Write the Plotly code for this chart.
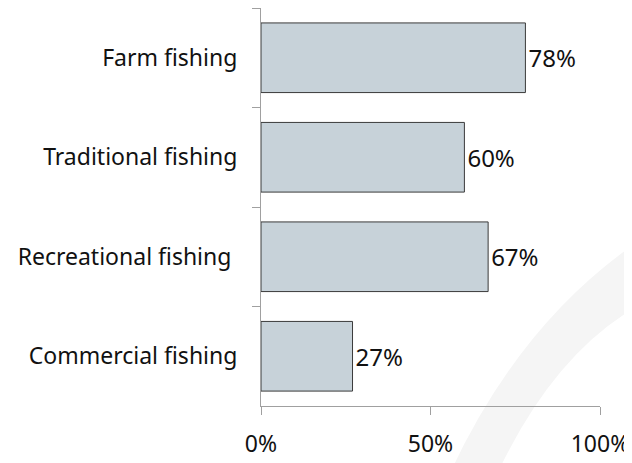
import plotly.graph_objects as go

categories = ["Farm fishing", "Traditional fishing", "Recreational fishing ", "Commercial fishing"]
values = [78, 60, 67, 27]
labels = ["78%", "60%", "67%", "27%"]
x_ticks = [0, 50, 100]
x_tick_labels = ["0%", "50%", "100%"]

FONT = "Noto Sans"
fig = go.Figure(go.Bar(
    x=values, y=categories, orientation="h",
    marker=dict(color="#c7d2d9", line=dict(color="#3a3a3a", width=1)),
    text=labels, textposition="outside", cliponaxis=False,
    textfont=dict(family=FONT, size=24, color="#111"),
    width=0.7,
))

fig.add_shape(type="path", xref="paper", yref="paper", layer="below",
              path="M 0.70 -0.164 Q 0.86 0.12 1.09 0.24 L 1.09 0.40 Q 0.76 0.20 0.56 -0.164 Z",
              fillcolor="#f5f5f5", line=dict(width=0))

fig.update_layout(
    width=632, height=463,
    margin=dict(l=253, r=40, t=0, b=65),
    paper_bgcolor="white", plot_bgcolor="white",
    showlegend=False,
    font=dict(family=FONT, size=23, color="#111"),
    xaxis=dict(range=[0, 100], tickvals=x_ticks, ticktext=x_tick_labels, automargin=False,
               showgrid=False, zeroline=False, showline=True, linecolor="#a0a0a0", linewidth=1,
               ticks="outside", ticklen=8, tickcolor="#a0a0a0", ticklabelstandoff=9),
    yaxis=dict(categoryorder="array", categoryarray=categories, autorange="reversed", automargin=False,
               showgrid=False, zeroline=False, showline=True, linecolor="#a0a0a0", linewidth=1,
               ticks="outside", ticklen=8, tickcolor="#a0a0a0", tickson="boundaries",
               ticklabelstandoff=18),
)

fig.write_html("out.html")
